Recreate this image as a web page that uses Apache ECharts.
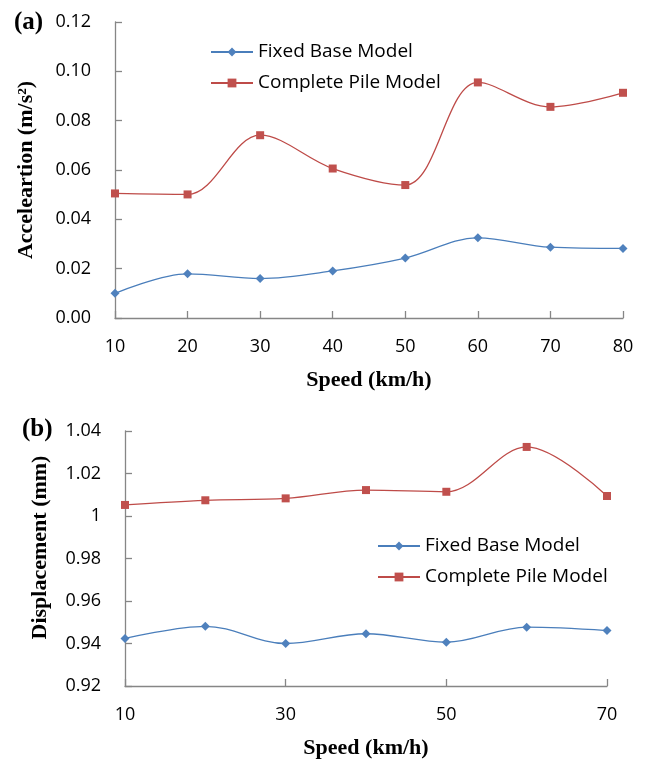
<!DOCTYPE html>
<html>
<head>
<meta charset="utf-8">
<script src="https://cdn.jsdelivr.net/npm/echarts@6/dist/echarts.min.js"></script>
<style>
html,body{margin:0;padding:0;background:#fff;}
#c{width:646px;height:760px;}
</style>
</head>
<body>
<div id="c"></div>
<script>
// ---- data ----
const speedsA = ['10','20','30','40','50','60','70','80'];
const accFixed = [0.0100, 0.0179, 0.0160, 0.0191, 0.0243, 0.0325, 0.0287, 0.0282];
const accPile  = [0.0505, 0.0501, 0.0741, 0.0606, 0.0539, 0.0955, 0.0856, 0.0913];
const speedsB = ['10','20','30','40','50','60','70'];
const dispFixed = [0.9424, 0.9481, 0.9400, 0.9446, 0.9406, 0.9477, 0.9461];
const dispPile  = [1.0052, 1.0074, 1.0083, 1.0122, 1.0114, 1.0325, 1.0094];
const seriesNames = ['Fixed Base Model', 'Complete Pile Model'];
const xTitle = 'Speed (km/h)';
const yTitleA = 'Acceleartion (m/s\u00B2)';
const yTitleB = 'Displacement (mm)';

const BLUE_LINE = '#4A7EBB', BLUE_FILL = '#4F81BD';
const RED_LINE = '#BE4B48', RED_FILL = '#C0504D';
const AXIS = '#868686';
const SANS = '"Open Sans", sans-serif';
const SERIF = '"Liberation Serif", "Times New Roman", serif';

function xAxisCfg(gridIndex, data, every) {
  return {
    type: 'category', gridIndex, data, boundaryGap: false,
    axisLine: {lineStyle: {color: AXIS, width: 1.3}},
    axisTick: {inside: true, length: 7, interval: every, lineStyle: {color: AXIS, width: 1.3}},
    axisLabel: {interval: every, color: '#000', fontSize: 18, fontFamily: SANS, margin: 20},
    splitLine: {show: false},
    name: xTitle, nameLocation: 'middle', nameGap: 51,
    nameTextStyle: {fontFamily: SERIF, fontWeight: 'bold', fontSize: 22, color: '#000'}
  };
}
function yAxisCfg(gridIndex, min, max, fmt, title, gap, pad) {
  return {
    type: 'value', gridIndex, min, max, interval: 0.02,
    axisLine: {show: true, lineStyle: {color: AXIS, width: 1.3}},
    axisTick: {show: true, inside: true, length: 7, lineStyle: {color: AXIS, width: 1.3}},
    axisLabel: {color: '#000', fontSize: 18, fontFamily: SANS, margin: 24, formatter: fmt},
    splitLine: {show: false},
    name: title, nameLocation: 'middle', nameGap: gap, nameRotate: 90,
    nameTextStyle: {fontFamily: SERIF, fontWeight: 'bold', fontSize: 22, color: '#000', padding: pad}
  };
}
function lineSeries(name, xi, yi, data, isBlue) {
  return {
    name, type: 'line', xAxisIndex: xi, yAxisIndex: yi, data,
    smooth: 0.35,
    symbol: isBlue ? 'diamond' : 'rect',
    symbolSize: isBlue ? 9 : 8,
    showSymbol: true,
    lineStyle: {color: isBlue ? BLUE_LINE : RED_LINE, width: 1.3},
    itemStyle: {color: isBlue ? BLUE_FILL : RED_FILL},
    emphasis: {disabled: true},
    animation: false
  };
}
function legendCfg(left, top) {
  return {
    orient: 'vertical', left, top, padding: 0, itemWidth: 42, itemHeight: 11, itemGap: 9,
    data: seriesNames,
    textStyle: {fontFamily: SANS, fontSize: 19, color: '#000', lineHeight: 22}
  };
}

const chart = echarts.init(document.getElementById('c'), null, {renderer: 'canvas'});
chart.setOption({
  animation: false,
  backgroundColor: '#fff',
  grid: [
    {left: 115, top: 22, width: 508, height: 296},
    {left: 125, top: 431, width: 482, height: 256}
  ],
  legend: [legendCfg(210, 41), legendCfg(377, 535)],
  xAxis: [xAxisCfg(0, speedsA, 0), xAxisCfg(1, speedsB, 1)],
  yAxis: [
    yAxisCfg(0, 0, 0.12, v => v.toFixed(2), yTitleA, 78, 0),
    yAxisCfg(1, 0.92, 1.04, v => String(parseFloat(v.toFixed(2))), yTitleB, 74, [0, 0, 0, 22])
  ],
  series: [
    lineSeries(seriesNames[0], 0, 0, accFixed, true),
    lineSeries(seriesNames[1], 0, 0, accPile, false),
    lineSeries(seriesNames[0], 1, 1, dispFixed, true),
    lineSeries(seriesNames[1], 1, 1, dispPile, false)
  ],
  graphic: [
    {type: 'text', left: 14, top: 10, style: {text: '(a)', fontFamily: SERIF, fontWeight: 'bold', fontSize: 25, fill: '#000'}},
    {type: 'text', left: 22, top: 417, style: {text: '(b)', fontFamily: SERIF, fontWeight: 'bold', fontSize: 25, fill: '#000'}}
  ]
});
</script>
</body>
</html>
